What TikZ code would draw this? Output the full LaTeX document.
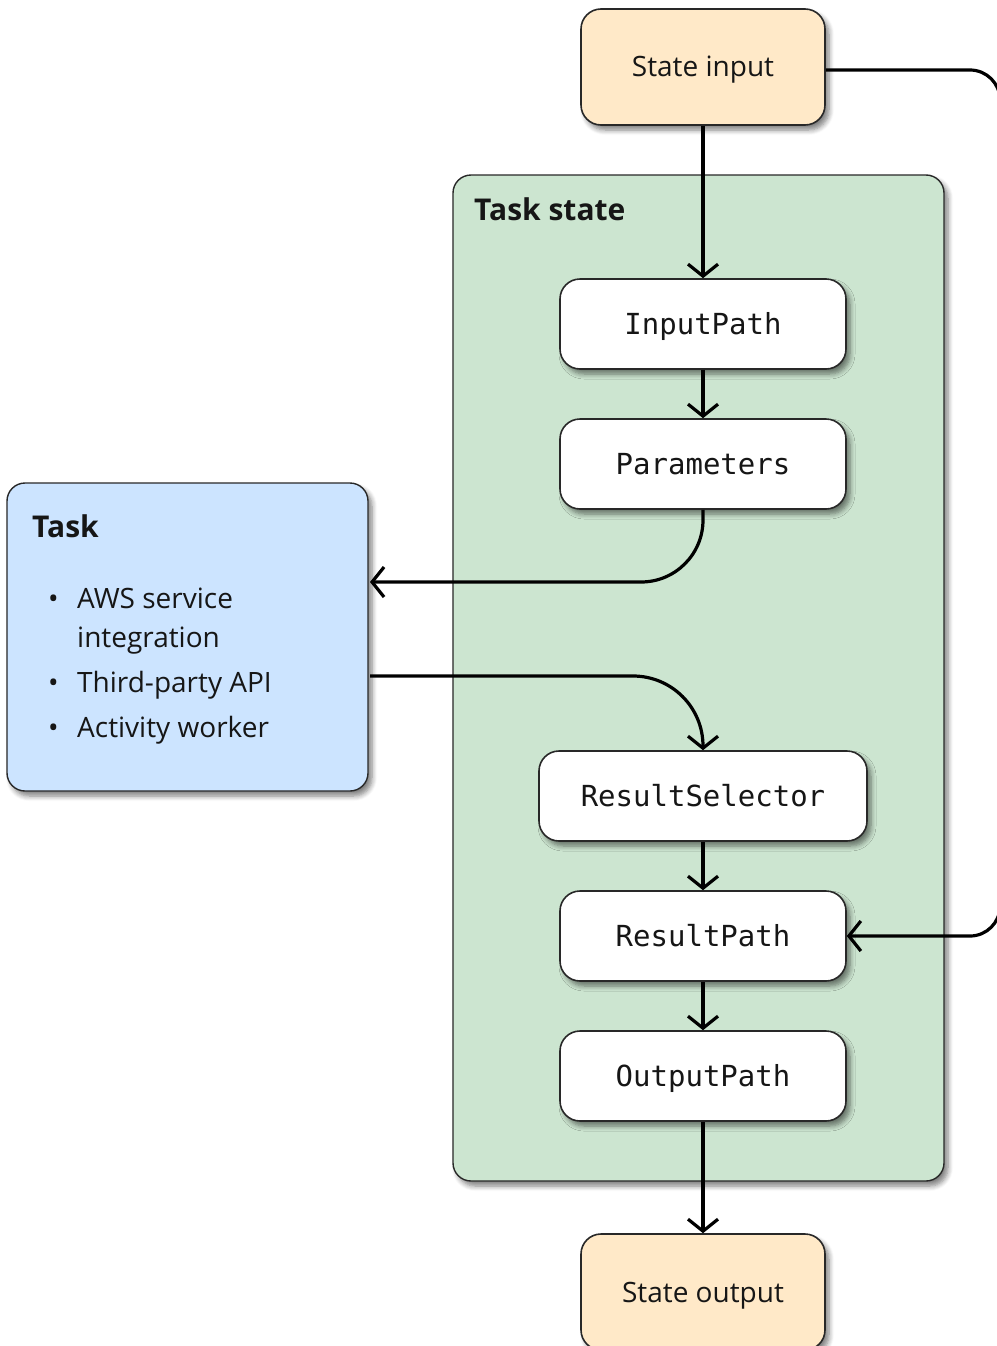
\documentclass[tikz,border=0pt]{standalone}
\usepackage{fontspec}
\setmainfont{Open Sans}
\setmonofont{DejaVu Sans Mono}
\usetikzlibrary{arrows.meta,shadows.blur}
\definecolor{peach}{RGB}{255,233,200}
\definecolor{mint}{RGB}{204,229,208}
\definecolor{sky}{RGB}{204,228,255}
\definecolor{edge}{RGB}{40,40,40}
\definecolor{ink}{RGB}{22,22,22}
\tikzset{
  shad/.style={blur shadow={shadow xshift=4pt,shadow yshift=-5pt,shadow blur radius=5pt,shadow opacity=50,shadow blur steps=6}},
  ioBox/.style={draw=edge,line width=1.6pt,fill=peach,rounded corners=20pt,shad,
    minimum width=244pt,minimum height=116pt,text=ink,
    font=\fontsize{28}{34}\selectfont,text height=20pt,text depth=0pt},
  fieldBox/.style={draw=edge,line width=1.6pt,fill=white,rounded corners=20pt,shad,
    minimum height=90pt,text=ink,
    font=\ttfamily\fontsize{29}{34}\selectfont,text height=21pt,text depth=0pt},
  groupBox/.style={draw=edge,line width=1.4pt,rounded corners=18pt,shad},
  arr/.style={line width=3.2pt,-{Straight Barb[length=12pt,width=30pt,line width=3.2pt]}},
  lbl/.style={anchor=base west,inner sep=0pt,text=ink,font=\fontsize{28}{34}\selectfont},
  ttl/.style={anchor=base west,inner sep=0pt,text=ink,font=\bfseries\fontsize{30}{36}\selectfont},
}
\begin{document}
\begin{tikzpicture}[x=1pt,y=-1pt]
\useasboundingbox (0,0) rectangle (996,1346);
% group boxes
\draw[groupBox,fill=mint] (453,175) rectangle (944,1181);
\node[ttl] (tstitle) at (474,220) {Task state};
\draw[groupBox,fill=sky] (7,483) rectangle (368,791);
\coordinate (taskE) at (370,637);
\node[ttl] (tasktitle) at (32,537) {Task};
\node[lbl] (b1) at (48,608) {•};
\node[lbl] (l1) at (77,608) {AWS service};
\node[lbl] (l1b) at (77,647) {integration};
\node[lbl] (b2) at (48,692) {•};
\node[lbl] (l2) at (77,692) {Third-party API};
\node[lbl] (b3) at (48,737) {•};
\node[lbl] (l3) at (77,737) {Activity worker};
% nodes
\node[ioBox] (si) at (703,67) {State input};
\node[fieldBox,minimum width=286pt] (ip) at (703,324) {InputPath};
\node[fieldBox,minimum width=286pt] (pa) at (703,464) {Parameters};
\node[fieldBox,minimum width=328pt] (rs) at (703,796) {ResultSelector};
\node[fieldBox,minimum width=286pt] (rp) at (703,936) {ResultPath};
\node[fieldBox,minimum width=286pt] (op) at (703,1076) {OutputPath};
\node[ioBox] (so) at (703,1292) {State output};
% connectors
\draw[arr] (si) -- (ip);
\draw[arr] (ip) -- (pa);
\draw[arr,rounded corners=62pt] (pa.south) |- ([yshift=55pt]taskE);
\draw[arr,rounded corners=70pt] ([yshift=-39pt]taskE) -| (rs.north);
\draw[arr] (rs) -- (rp);
\draw[arr] (rp) -- (op);
\draw[arr] (op) -- (so);
\coordinate (rc) at (1000,70);
\draw[arr,rounded corners=30pt] (si.east |- rc) -- (rc) |- (rp.east);
\end{tikzpicture}
\end{document}
